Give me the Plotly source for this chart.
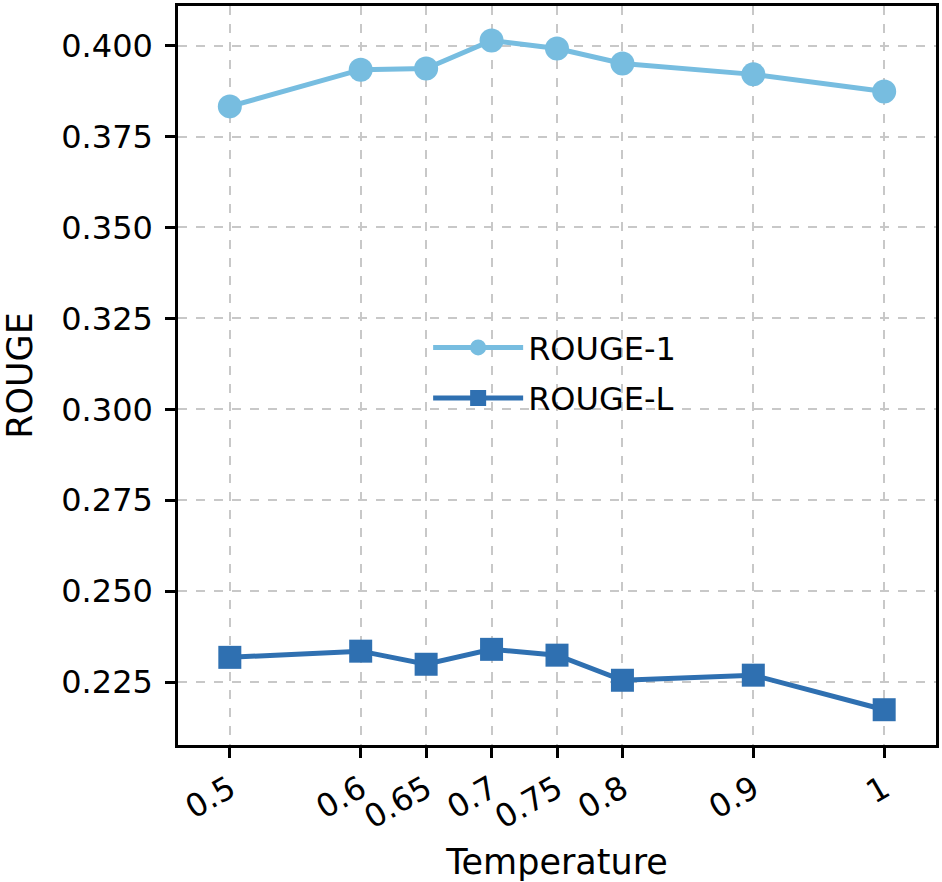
import plotly.graph_objects as go

temperature = [0.5, 0.6, 0.65, 0.7, 0.75, 0.8, 0.9, 1.0]
tick_labels = ["0.5", "0.6", "0.65", "0.7", "0.75", "0.8", "0.9", "1"]
rouge_1 = [0.3833, 0.3934, 0.3937, 0.4014, 0.3992, 0.3951, 0.3921, 0.3874]
rouge_l = [0.2318, 0.2335, 0.2299, 0.2340, 0.2324, 0.2255, 0.2269, 0.2174]
y_ticks = [0.225, 0.250, 0.275, 0.300, 0.325, 0.350, 0.375, 0.400]

fig = go.Figure()
fig.add_trace(go.Scatter(x=temperature, y=rouge_1, name="ROUGE-1", mode="lines+markers",
                         legendgroup="r1",
                         line=dict(color="#77bde0", width=5),
                         marker=dict(symbol="circle", size=24, color="#77bde0")))
fig.add_trace(go.Scatter(x=temperature, y=rouge_l, name="ROUGE-L", mode="lines+markers",
                         legendgroup="rl",
                         line=dict(color="#2f70b1", width=5),
                         marker=dict(symbol="square", size=23, color="#2f70b1")))

axis_common = dict(showline=True, linecolor="black", linewidth=2.5, mirror=True,
                   ticks="outside", ticklen=10, tickwidth=2.5, tickcolor="black",
                   showgrid=True, gridcolor="#c8c8c8", gridwidth=2, griddash="dash",
                   zeroline=False, tickfont=dict(size=32, color="black"))

fig.update_layout(
    width=942, height=882,
    margin=dict(l=178, r=4, t=3, b=137),
    plot_bgcolor="white", paper_bgcolor="white",
    font=dict(family="DejaVu Sans", color="black"),
    xaxis=dict(range=[0.4604, 1.0396], tickmode="array", tickvals=temperature,
               ticktext=tick_labels, tickangle=-30,
               title=dict(text="Temperature", font=dict(size=35), standoff=16),
               **axis_common),
    yaxis=dict(range=[0.2077, 0.4109], tickmode="array", tickvals=y_ticks,
               tickformat=".3f", ticklabelstandoff=6,
               title=dict(text="ROUGE", font=dict(size=35), standoff=18),
               **axis_common),
    legend=dict(x=0.33, y=0.575, xanchor="left", yanchor="top",
                font=dict(size=32, color="black"), bgcolor="rgba(0,0,0,0)",
                itemwidth=90, tracegroupgap=6),
    showlegend=True,
)

fig.write_html("out.html")
